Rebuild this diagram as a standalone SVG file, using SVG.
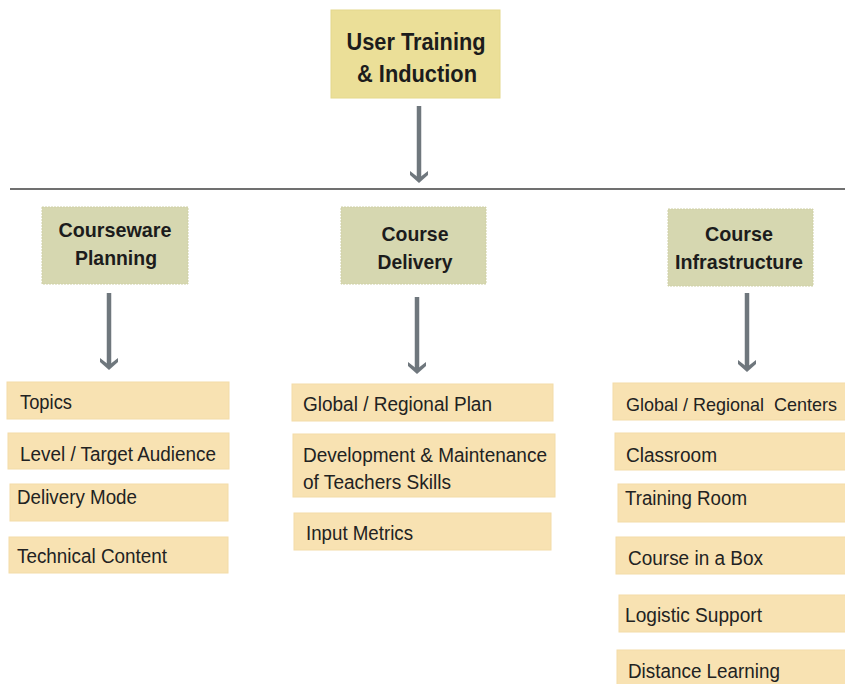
<svg xmlns="http://www.w3.org/2000/svg" width="845" height="684" viewBox="0 0 845 684">
<style>
.top{fill:#ebdf98;stroke:#e4d88c;stroke-width:1}
.hdr{fill:#d6d7b0;stroke:#cfd0a6;stroke-width:1;stroke-dasharray:2 1}
.item{fill:#f8e2b2;stroke:#f3dca8;stroke-width:1}
.ht{font-family:"Liberation Sans",Arial,sans-serif;font-weight:bold;fill:#1c1c1c;text-anchor:middle}
.it{font-family:"Liberation Sans",Arial,sans-serif;font-size:20px;fill:#222}
.conn{stroke:#6f777d;stroke-width:4.5;fill:none}
.head{fill:#6f777d}
</style>
<defs>
<path id="ah" d="M-9,-9 L0,-2 L9,-9 L9,-5 L0,3 L-9,-5 Z"/>
</defs>
<rect width="845" height="684" fill="#ffffff"/>

<g id="connectors">
  <line class="conn" x1="419" y1="106" x2="419" y2="180"/>
  <use href="#ah" class="head" x="419" y="180"/>
  <line x1="10" y1="189" x2="845" y2="189" stroke="#707070" stroke-width="2"/>
  <line class="conn" x1="109" y1="293" x2="109" y2="367"/>
  <use href="#ah" class="head" x="109" y="367"/>
  <line class="conn" x1="417" y1="297" x2="417" y2="371"/>
  <use href="#ah" class="head" x="417" y="371"/>
  <line class="conn" x1="747" y1="293" x2="747" y2="369"/>
  <use href="#ah" class="head" x="747" y="369"/>
</g>

<g id="user-training">
  <rect class="top" x="331" y="10" width="169" height="88"/>
  <text class="ht" font-size="23.5" x="416" y="50" textLength="139" lengthAdjust="spacingAndGlyphs">User Training</text>
  <text class="ht" font-size="23.5" x="417" y="82" textLength="120" lengthAdjust="spacingAndGlyphs">&amp; Induction</text>
</g>

<g id="courseware-planning">
  <rect class="hdr" x="42" y="207" width="146" height="77"/>
  <text class="ht" font-size="21" x="115" y="237" textLength="113" lengthAdjust="spacingAndGlyphs">Courseware</text>
  <text class="ht" font-size="21" x="116" y="265" textLength="82" lengthAdjust="spacingAndGlyphs">Planning</text>
</g>

<g id="course-delivery">
  <rect class="hdr" x="341" y="207" width="145" height="77"/>
  <text class="ht" font-size="21" x="415" y="241" textLength="67" lengthAdjust="spacingAndGlyphs">Course</text>
  <text class="ht" font-size="21" x="415" y="269" textLength="75" lengthAdjust="spacingAndGlyphs">Delivery</text>
</g>

<g id="course-infrastructure">
  <rect class="hdr" x="668" y="209" width="145" height="77"/>
  <text class="ht" font-size="21" x="739" y="241" textLength="68" lengthAdjust="spacingAndGlyphs">Course</text>
  <text class="ht" font-size="21" x="739" y="269" textLength="128" lengthAdjust="spacingAndGlyphs">Infrastructure</text>
</g>

<g id="topics">
  <rect class="item" x="7" y="382" width="222" height="37"/>
  <text class="it" x="20" y="409" textLength="52" lengthAdjust="spacingAndGlyphs">Topics</text>
</g>
<g id="level-target-audience">
  <rect class="item" x="8" y="433" width="221" height="36"/>
  <text class="it" x="20" y="461" textLength="196" lengthAdjust="spacingAndGlyphs">Level / Target Audience</text>
</g>
<g id="delivery-mode">
  <rect class="item" x="10" y="484" width="218" height="37"/>
  <text class="it" x="17" y="504" textLength="120" lengthAdjust="spacingAndGlyphs">Delivery Mode</text>
</g>
<g id="technical-content">
  <rect class="item" x="9" y="537" width="219" height="36"/>
  <text class="it" x="17" y="563" textLength="150" lengthAdjust="spacingAndGlyphs">Technical Content</text>
</g>

<g id="global-regional-plan">
  <rect class="item" x="292" y="384" width="261" height="37"/>
  <text class="it" x="303" y="411" textLength="189" lengthAdjust="spacingAndGlyphs">Global / Regional Plan</text>
</g>
<g id="development-maintenance">
  <rect class="item" x="293" y="434" width="262" height="63"/>
  <text class="it" x="303" y="462" textLength="244" lengthAdjust="spacingAndGlyphs">Development &amp; Maintenance</text>
  <text class="it" x="303" y="489" textLength="148" lengthAdjust="spacingAndGlyphs">of Teachers Skills</text>
</g>
<g id="input-metrics">
  <rect class="item" x="294" y="513" width="257" height="37"/>
  <text class="it" x="306" y="540" textLength="107" lengthAdjust="spacingAndGlyphs">Input Metrics</text>
</g>

<g id="global-regional-centers">
  <rect class="item" x="613" y="383" width="240" height="37"/>
  <text class="it" x="626" y="411" xml:space="preserve" style="font-size:18.5px" textLength="211" lengthAdjust="spacingAndGlyphs">Global / Regional  Centers</text>
</g>
<g id="classroom">
  <rect class="item" x="615" y="433" width="240" height="37"/>
  <text class="it" x="626" y="462" textLength="91" lengthAdjust="spacingAndGlyphs">Classroom</text>
</g>
<g id="training-room">
  <rect class="item" x="618" y="484" width="240" height="38"/>
  <text class="it" x="625" y="505" textLength="122" lengthAdjust="spacingAndGlyphs">Training Room</text>
</g>
<g id="course-in-a-box">
  <rect class="item" x="616" y="537" width="240" height="37"/>
  <text class="it" x="628" y="565" textLength="135" lengthAdjust="spacingAndGlyphs">Course in a Box</text>
</g>
<g id="logistic-support">
  <rect class="item" x="619" y="595" width="240" height="37"/>
  <text class="it" x="625" y="622" textLength="137" lengthAdjust="spacingAndGlyphs">Logistic Support</text>
</g>
<g id="distance-learning">
  <rect class="item" x="617" y="650" width="240" height="40"/>
  <text class="it" x="628" y="678" textLength="152" lengthAdjust="spacingAndGlyphs">Distance Learning</text>
</g>
</svg>
